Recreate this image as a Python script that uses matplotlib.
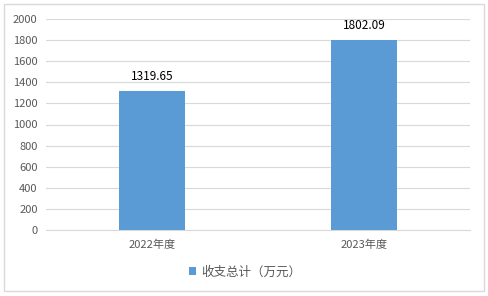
import matplotlib.pyplot as plt
from matplotlib.patches import Rectangle

plt.rcParams['font.family'] = ['Noto Sans CJK SC', 'DejaVu Sans']

categories = ['2022年度', '2023年度']
values = [1319.65, 1802.09]
series_name = '收支总计（万元）'
yticks = [0, 200, 400, 600, 800, 1000, 1200, 1400, 1600, 1800, 2000]

fig = plt.figure(figsize=(4.88, 2.96), dpi=100)
fig.patches.append(Rectangle((4 / 488, 5 / 296), 480 / 488, 287 / 296,
                             transform=fig.transFigure, fill=False,
                             edgecolor='#d9d9d9', linewidth=1))
ax = fig.add_axes([46 / 488, 66 / 296, 424 / 488, 211 / 296])

x = range(len(categories))
bars = ax.bar(x, values, width=0.31, color='#5b9bd5', label=series_name, zorder=3)
for xi, v in zip(x, values):
    ax.text(xi, v + 70, f'{v:.2f}', ha='center', va='bottom', fontsize=8.5, color='#000000')

ax.set_xlim(-0.5, 1.5)
ax.set_ylim(0, 2000)
ax.set_yticks(yticks)
ax.set_xticks(list(x))
ax.set_xticklabels(categories)
ax.yaxis.grid(True, color='#d9d9d9', linewidth=0.8, zorder=0)
for s in ['top', 'right', 'left']:
    ax.spines[s].set_visible(False)
ax.spines['bottom'].set_color('#d9d9d9')
ax.tick_params(axis='both', length=0, labelsize=8, colors='#595959', pad=6)
ax.tick_params(axis='x', pad=7)

fig.legend(handles=[bars], labels=[series_name], loc='center',
           bbox_to_anchor=(245 / 488, 1 - 272 / 296), frameon=False,
           fontsize=9, handlelength=0.6, handleheight=0.6, handletextpad=0.4,
           labelcolor='#595959')

fig.savefig('out.png', dpi=100)
